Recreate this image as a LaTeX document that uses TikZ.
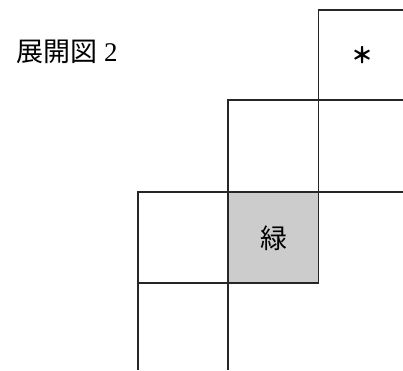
\documentclass[tikz,border=0pt]{standalone}
\usepackage{fontspec}
\newfontfamily\jp{Noto Sans CJK JP}
\tikzset{
  netline/.style={line width=1.2pt, draw=black!85},
  cellfill/.style={fill=black!20},
  lbl/.style={font=\jp\fontsize{27}{29}\selectfont, inner sep=0pt}
}
\begin{document}
\begin{tikzpicture}[x=1pt,y=-1pt]
\useasboundingbox[fill=white] (0,0) rectangle (403,370);
% grey cell
\fill[cellfill] (228,192) rectangle (318.5,283);
% grid corners
\coordinate (a1) at (318.5,10);
\coordinate (a2) at (403,10);
\coordinate (b1) at (228,100);
\coordinate (b2) at (403,100);
\coordinate (c1) at (138,192);
\coordinate (c2) at (403,192);
\coordinate (d1) at (138,283);
\coordinate (d2) at (318.5,283);
\coordinate (e1) at (228,370);
\coordinate (e2) at (138,370);
\draw[netline] (a2) -- (a1) -- (d2) -- (d1);
\draw[netline] (b2) -- (b1) -- (e1);
\draw[netline] (c2) -- (c1) -- (e2);
% labels
\node[lbl, anchor=west] (title) at (16,52) {展開図\hspace{7pt}{\fontspec{Liberation Serif}2}};
\node[lbl] (green) at (273.5,238) {緑};
\node[lbl, font=\jp\bfseries\fontsize{22}{24}\selectfont] (star) at (362,55) {＊};
\end{tikzpicture}
\end{document}
